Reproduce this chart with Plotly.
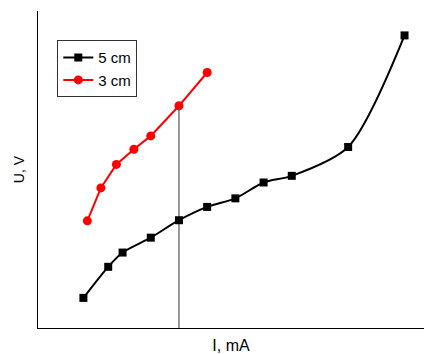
import plotly.graph_objects as go

# Data (arbitrary units)
current_5cm = [1.61, 2.49, 3.0, 4.0, 5.0, 6.0, 7.0, 8.0, 9.0, 11.0, 13.0]
voltage_5cm = [0.95, 1.93, 2.38, 2.85, 3.40, 3.82, 4.09, 4.59, 4.80, 5.71, 9.23]
current_3cm = [1.75, 2.23, 2.78, 3.4, 4.0, 5.0, 6.0]
voltage_3cm = [3.38, 4.42, 5.16, 5.64, 6.06, 7.01, 8.06]
marker_current = 5.0
marker_voltage = 7.01
series_names = ["5 cm", "3 cm"]
x_title = "I, mA"
y_title = "U, V"

FONT = "Liberation Sans, Arial, sans-serif"

fig = go.Figure()
fig.add_trace(go.Scatter(
    x=current_5cm, y=voltage_5cm, name=series_names[0], mode="lines+markers",
    line=dict(color="black", width=2, shape="spline", smoothing=0.8),
    marker=dict(symbol="square", size=8, color="black"),
))
fig.add_trace(go.Scatter(
    x=current_3cm, y=voltage_3cm, name=series_names[1], mode="lines+markers",
    line=dict(color="#ff0000", width=2),
    marker=dict(symbol="circle", size=9, color="#ff0000"),
))
fig.add_shape(type="line", x0=marker_current, x1=marker_current, y0=0, y1=marker_voltage,
              xref="x", yref="y", line=dict(color="#333333", width=1), layer="below")

fig.update_layout(
    width=424, height=354,
    margin=dict(l=38, r=0, t=11, b=26),
    paper_bgcolor="white", plot_bgcolor="white",
    font=dict(family=FONT, size=15, color="black"),
    showlegend=True,
    legend=dict(x=0.05, y=0.908, xanchor="left", yanchor="top",
                bordercolor="#333333", borderwidth=1, bgcolor="white",
                font=dict(family=FONT, size=15), tracegroupgap=0,
                itemwidth=30),
)
fig.update_xaxes(range=[0, 13.69], showline=True, linecolor="black", linewidth=1,
                 showticklabels=False, ticks="", showgrid=False, zeroline=False,
                 automargin=False,
                 title=dict(text=x_title, standoff=14, font=dict(size=16)))
fig.update_yaxes(range=[0, 10], showline=True, linecolor="black", linewidth=1,
                 showticklabels=False, ticks="", showgrid=False, zeroline=False,
                 automargin=False,
                 title=dict(text=y_title, standoff=9, font=dict(size=14)))

fig.write_html("out.html", config={"displayModeBar": False},
               post_script="document.body.style.margin='0';document.body.style.padding='0';")
